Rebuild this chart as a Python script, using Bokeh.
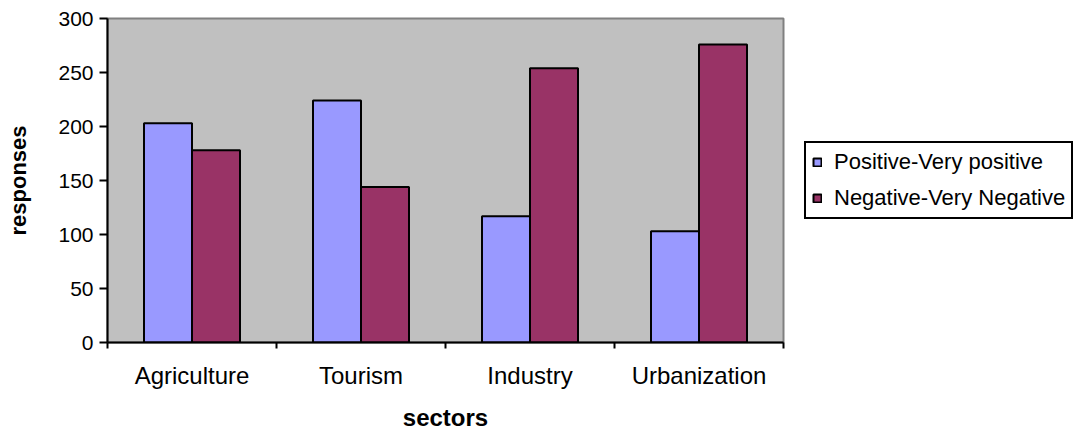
from bokeh.plotting import figure
from bokeh.models import Range1d, FixedTicker, Legend, LegendItem, ColumnDataSource
from bokeh.transform import dodge
from bokeh.embed import file_html
from bokeh.resources import INLINE

categories = ["Agriculture", "Tourism", "Industry", "Urbanization"]
positive = [203, 224, 117, 103]
negative = [178, 144, 254, 276]
y_ticks = [0, 50, 100, 150, 200, 250, 300]
series_names = ["Positive-Very positive", "Negative-Very Negative"]
colors = ["#9999FF", "#993366"]

FONT = "Liberation Sans"

centers = [i + 0.5 for i in range(len(categories))]
source = ColumnDataSource(dict(x=centers, pos=positive, neg=negative))

p = figure(
    frame_width=676, frame_height=324,
    x_range=Range1d(0, len(categories)), y_range=Range1d(0, 300),
    output_backend="svg", toolbar_location=None,
    min_border_left=107, min_border_right=297, min_border_top=18, min_border_bottom=91,
)
p.background_fill_color = "#C0C0C0"
p.border_fill_color = "white"
p.outline_line_color = "#808080"
p.outline_line_width = 2
p.grid.visible = False

r1 = p.vbar(x=dodge("x", -0.142, range=p.x_range), top="pos", width=0.284, source=source,
            fill_color=colors[0], line_color="black", line_width=2)
r2 = p.vbar(x=dodge("x", 0.142, range=p.x_range), top="neg", width=0.284, source=source,
            fill_color=colors[1], line_color="black", line_width=2)

# x axis
xa = p.xaxis[0]
xa.ticker = FixedTicker(ticks=centers, minor_ticks=list(range(len(categories) + 1)))
xa.major_label_overrides = {c: name for c, name in zip(centers, categories)}
xa.major_tick_out = 0
xa.major_tick_in = 0
xa.minor_tick_out = 6
xa.minor_tick_in = 0
xa.minor_tick_line_color = "black"
xa.minor_tick_line_width = 2
xa.axis_line_color = "black"
xa.axis_line_width = 2
xa.major_label_standoff = 13
xa.major_label_text_font = FONT
xa.major_label_text_font_size = "24px"
xa.major_label_text_color = "black"
xa.axis_label = "sectors"
xa.axis_label_text_font = FONT
xa.axis_label_text_font_size = "24px"
xa.axis_label_text_font_style = "bold"
xa.axis_label_text_color = "black"
xa.axis_label_standoff = 12

# y axis
ya = p.yaxis[0]
ya.ticker = FixedTicker(ticks=y_ticks)
ya.minor_tick_line_color = None
ya.major_tick_out = 8
ya.major_tick_in = 0
ya.major_tick_line_width = 2
ya.major_tick_line_color = "black"
ya.axis_line_color = "black"
ya.axis_line_width = 2
ya.major_label_standoff = 6
ya.major_label_text_font = FONT
ya.major_label_text_font_size = "21px"
ya.major_label_text_color = "black"
ya.axis_label = "responses"
ya.axis_label_text_font = FONT
ya.axis_label_text_font_size = "22px"
ya.axis_label_text_font_style = "bold"
ya.axis_label_text_color = "black"
ya.axis_label_standoff = 24

legend = Legend(
    items=[LegendItem(label=series_names[0], renderers=[r1]),
           LegendItem(label=series_names[1], renderers=[r2])],
    location="center_left",
    label_text_font=FONT, label_text_font_size="22px", label_text_color="black",
    glyph_width=10, glyph_height=10, label_height=24,
    label_standoff=12, spacing=10, padding=6, margin=21,
    border_line_color="black", border_line_width=2, border_line_alpha=1,
    background_fill_color="white", background_fill_alpha=1,
)
p.add_layout(legend, "right")

open("out.html", "w").write(file_html(p, INLINE))
